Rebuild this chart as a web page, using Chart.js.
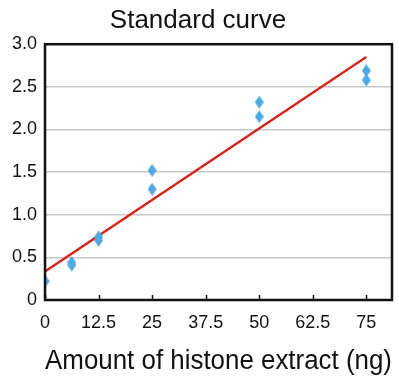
<!DOCTYPE html>
<html>
<head>
<meta charset="utf-8">
<script src="https://cdn.jsdelivr.net/npm/chart.js@4"></script>
<style>
html,body{margin:0;padding:0;background:#fff;}
#wrap{width:399px;height:385px;}
</style>
</head>
<body>
<div id="wrap"><canvas id="c" width="399" height="385"></canvas></div>
<script>
// Data
const amountNg   = [0, 6.25, 6.25, 12.5, 12.5, 25, 25, 50, 50, 75, 75];
const absorbance = [0.22, 0.44, 0.41, 0.74, 0.70, 1.52, 1.30, 2.32, 2.15, 2.69, 2.58];
const fitX = [0, 75];
const fitY = [0.335, 2.85];
const xTickValues = [0, 12.5, 25, 37.5, 50, 62.5, 75];
const yTickValues = [0, 0.5, 1.0, 1.5, 2.0, 2.5, 3.0];
const chartTitle = 'Standard curve';
const xTitle = 'Amount of histone extract (ng)';

const FONT = "'Liberation Sans', Arial, Helvetica, sans-serif";

// tall diamond marker
const diamond = document.createElement('canvas');
diamond.width = 9; diamond.height = 13;
(function(){
  const g = diamond.getContext('2d');
  g.fillStyle = '#4fa8e3';
  g.beginPath();
  g.moveTo(4.5, 0); g.lineTo(9, 6.5); g.lineTo(4.5, 13); g.lineTo(0, 6.5);
  g.closePath(); g.fill();
})();

const framePlugin = {
  id: 'frame',
  afterDatasetsDraw(chart) {
    const {ctx, chartArea: a, scales: {x}} = chart;
    ctx.save();
    ctx.strokeStyle = '#111';
    ctx.lineWidth = 1.5;
    xTickValues.forEach(v => {
      const px = Math.round(x.getPixelForValue(v)) + 0.5;
      ctx.beginPath();
      ctx.moveTo(px, a.bottom);
      ctx.lineTo(px, a.bottom - 5);
      ctx.stroke();
    });
    ctx.lineWidth = 2.5;
    ctx.strokeRect(a.left, a.top, a.right - a.left, a.bottom - a.top);
    ctx.restore();
  }
};

new Chart(document.getElementById('c'), {
  type: 'scatter',
  data: {
    datasets: [
      {
        type: 'line',
        data: fitX.map((v, i) => ({x: v, y: fitY[i]})),
        borderColor: '#d4241a',
        borderWidth: 2.3,
        pointRadius: 0,
        fill: false,
        order: 2
      },
      {
        data: amountNg.map((v, i) => ({x: v, y: absorbance[i]})),
        pointStyle: diamond,
        pointRadius: 6,
        clip: 0,
        order: 1
      }
    ]
  },
  plugins: [framePlugin],
  options: {
    responsive: false,
    animation: false,
    devicePixelRatio: 1,
    layout: {padding: {left: 4, right: 7, top: 0, bottom: 7}},
    plugins: {
      legend: {display: false},
      tooltip: {enabled: false},
      title: {
        display: true,
        text: chartTitle,
        color: '#111',
        font: {family: FONT, size: 26, weight: 'normal'},
        padding: {top: 5, bottom: 8}
      }
    },
    scales: {
      x: {
        type: 'linear',
        min: 0,
        max: 81,
        afterBuildTicks: s => { s.ticks = xTickValues.map(v => ({value: v})); },
        ticks: {
          color: '#111',
          font: {family: FONT, size: 18},
          padding: 12,
          maxRotation: 0,
          autoSkip: false,
          callback: v => String(v)
        },
        grid: {display: false, drawTicks: false},
        border: {display: false},
        title: {
          display: true,
          text: xTitle,
          color: '#111',
          font: {family: FONT, size: 27},
          padding: {top: 0, bottom: 0}
        }
      },
      y: {
        type: 'linear',
        min: 0,
        max: 3,
        afterBuildTicks: s => { s.ticks = yTickValues.map(v => ({value: v})); },
        ticks: {
          color: '#111',
          font: {family: FONT, size: 18},
          padding: 8,
          callback: v => v === 0 ? '0' : v.toFixed(1)
        },
        grid: {color: '#c8c8c8', lineWidth: 1.5, drawTicks: false},
        border: {display: false}
      }
    }
  }
});
</script>
</body>
</html>
